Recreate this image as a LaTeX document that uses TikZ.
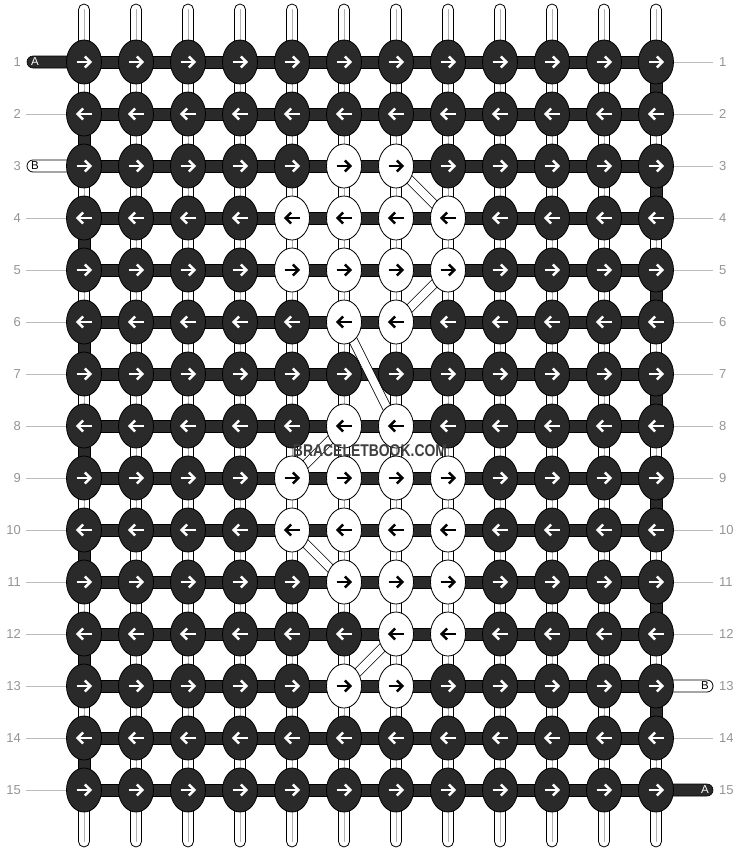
\documentclass[tikz,border=0pt]{standalone}
\usepackage{fontspec}
\setmainfont{Liberation Sans}
\usetikzlibrary{shapes.geometric,calc}
\definecolor{dk}{HTML}{2A2A2A}
\definecolor{lbl}{HTML}{959595}
\definecolor{gln}{HTML}{BBBBBB}
\definecolor{ctr}{HTML}{B0B0B0}
\tikzset{
  warp/.style={draw=black, line width=0.8pt, fill=white, rounded corners=5.5pt},
  band/.style={draw=black, line width=0.6pt, fill=dk},
  whitepill/.style={draw=black, line width=0.8pt, fill=white, rounded corners=6pt},
  darkpill/.style={draw=black, line width=0.6pt, fill=dk, rounded corners=6pt},
  diag/.style={draw=black, line width=0.7pt, double=white, double distance=8pt},
  knot/.style={ellipse, draw=black, line width=0.8pt, minimum width=35pt, minimum height=44pt, inner sep=0pt},
  rowlbl/.style={text=lbl, font=\fontsize{13}{15}\selectfont, inner sep=0pt},
  pilltxt/.style={font=\fontsize{11.5}{13}\selectfont, inner sep=0pt},
  greyline/.style={draw=gln, line width=0.8pt},
  arr/.style={line width=2.5pt},
}
\begin{document}
\begin{tikzpicture}[x=1pt,y=-1pt]
\useasboundingbox (0,0) rectangle (740,852);
\fill[white] (0,0) rectangle (740,852);
% grid points
\foreach \r in {1,...,15}{
  \foreach \c in {1,...,12}{
    \coordinate (p-\r-\c) at ({84+52*(\c-1)},{62+52*(\r-1)});
  }
}
% vertical strings
\foreach \c in {1,...,12}{
  \pgfmathsetmacro\xx{84+52*(\c-1)}
  \draw[warp] ({\xx-5.5},4) rectangle ({\xx+5.5},847);
  \draw[draw=ctr, line width=0.8pt] (\xx,9) -- (\xx,842);
}
% pills
\filldraw[darkpill] (27,56) rectangle (92,68);
\filldraw[whitepill] (27,160) rectangle (92,172);
\filldraw[whitepill] (648,680) rectangle (713,692);
\filldraw[darkpill] (648,784) rectangle (713,796);
% horizontal bands
\foreach \r in {1,...,15}{
  \filldraw[band] ($(p-\r-1)+(0,-6)$) rectangle ($(p-\r-12)+(0,6)$);
}
% edge turns
\foreach \r in {2,4,...,14}{
  \pgfmathtruncatemacro\rn{\r+1}
  \filldraw[band] ($(p-\r-1)+(-6,0)$) rectangle ($(p-\rn-1)+(6,0)$);
}
\foreach \r in {1,3,...,13}{
  \pgfmathtruncatemacro\rn{\r+1}
  \filldraw[band] ($(p-\r-12)+(-6,0)$) rectangle ($(p-\rn-12)+(6,0)$);
}
% diagonal strands
\draw[diag] (p-3-7) -- (p-4-8);
\draw[diag] (p-5-8) -- (p-6-7);
\draw[diag] (p-6-6) -- (p-8-7);
\draw[diag] (p-8-6) -- (p-9-5);
\draw[diag] (p-10-5) -- (p-11-6);
\draw[diag] (p-12-7) -- (p-13-6);
% white knots list
\foreach \r/\c in {3/6,3/7,4/5,4/6,4/7,4/8,5/5,5/6,5/7,5/8,6/6,6/7,8/6,8/7,9/5,9/6,9/7,9/8,10/5,10/6,10/7,10/8,11/6,11/7,11/8,12/7,12/8,13/6,13/7}{
  \expandafter\xdef\csname wk\r-\c\endcsname{1}
}
% knots
\foreach \r in {1,...,15}{
  \pgfmathtruncatemacro\d{ifthenelse(mod(\r,2)==1,1,-1)}
  \foreach \c in {1,...,12}{
    \ifcsname wk\r-\c\endcsname
      \def\nf{white}\def\af{black}
    \else
      \def\nf{dk}\def\af{white}
    \fi
    \node[knot, fill=\nf] (n-\r-\c) at (p-\r-\c) {};
    \begin{scope}[shift={(p-\r-\c)}, xscale=\d]
      \draw[arr, draw=\af] (-7.5,0) -- (6,0);
      \draw[arr, draw=\af, line join=miter, miter limit=4] (0.8,-5.5) -- (6.4,0) -- (0.8,5.5);
    \end{scope}
  }
}
% row labels and guide lines
\foreach \r in {1,...,15}{
  \pgfmathsetmacro\yy{62+52*(\r-1)}
  \node[rowlbl, anchor=east] (ll-\r) at (21,\yy) {\r};
  \node[rowlbl, anchor=west] (rl-\r) at (719,\yy) {\r};
}
\foreach \r in {2,4,5,6,7,8,9,10,11,12,13,14,15}{
  \draw[greyline] ($(ll-\r.east)+(5,0)$) -- (n-\r-1.west);
}
\foreach \r in {1,2,3,4,5,6,7,8,9,10,11,12,14}{
  \draw[greyline] (n-\r-12.east) -- ($(rl-\r.west)+(-6,0)$);
}
% pill letters
\node[pilltxt, text=white] (pa1) at (35,62) {A};
\node[pilltxt, text=black] (pb1) at (35,166) {B};
\node[pilltxt, text=black] (pb2) at (705,686) {B};
\node[pilltxt, text=white] (pa2) at (705,790) {A};
% watermark
\node[font=\bfseries\fontsize{17}{17}\selectfont, text=dk!90, xscale=0.82, inner sep=0pt] (wm) at (370,451) {BRACELETBOOK.COM};
\end{tikzpicture}
\end{document}
